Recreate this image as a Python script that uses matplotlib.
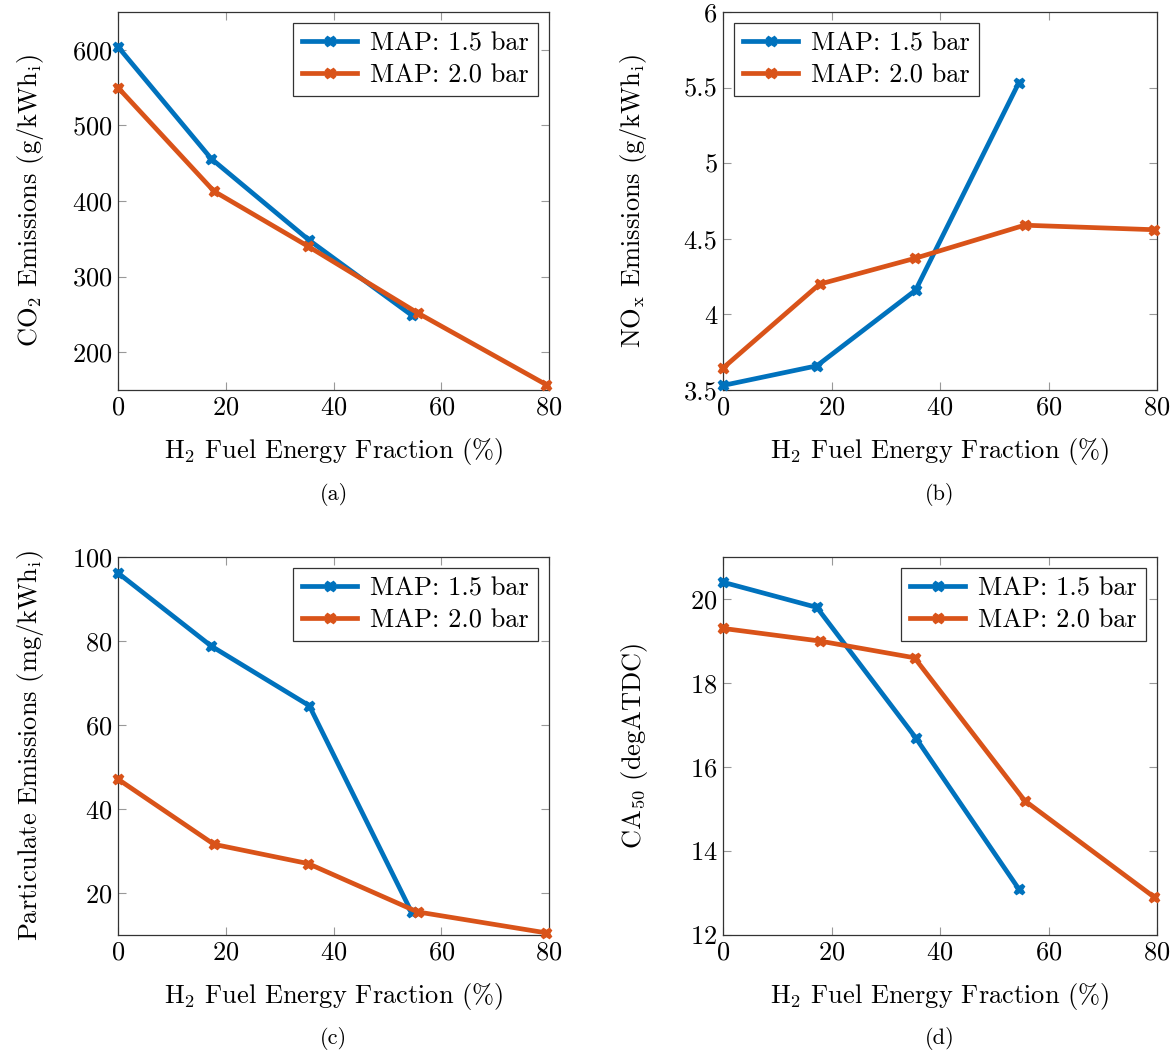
import matplotlib
matplotlib.use("Agg")
import matplotlib.pyplot as plt

plt.rcParams['font.family'] = ['cmr10', 'DejaVu Serif']
plt.rcParams['mathtext.fontset'] = 'cm'
plt.rcParams['axes.formatter.use_mathtext'] = True
plt.rcParams['axes.unicode_minus'] = False

BLUE = '#0072BD'
ORANGE = '#D95319'

# H2 fuel energy fraction (%) for each pressure
x_15 = [0, 17.3, 35.5, 54.5]
x_20 = [0, 17.8, 35.3, 55.6, 79.5]

# (a) CO2 emissions (g/kWh_i)
co2_15 = [604, 456, 348, 249]
co2_20 = [550, 413, 340, 252, 157]

# (b) NOx emissions (g/kWh_i)
nox_15 = [3.53, 3.66, 4.16, 5.53]
nox_20 = [3.645, 4.20, 4.37, 4.59, 4.56]

# (c) particulate emissions (mg/kWh_i)
pm_15 = [96.2, 78.8, 64.6, 15.4]
pm_20 = [47.1, 31.6, 27.0, 15.5, 10.5]

# (d) CA50 (degATDC)
ca_15 = [20.4, 19.8, 16.7, 13.1]
ca_20 = [19.3, 19.0, 18.6, 15.2, 12.9]

nox_ticks = [3.5, 4, 4.5, 5, 5.5, 6]
nox_ticklabels = ['3.5', '4', '4.5', '5', '5.5', '6']

W, H = 1175, 1057
FS = 19
fig = plt.figure(figsize=(W / 100, H / 100), dpi=100)


def make_ax(left, right, top, bottom):
    return fig.add_axes([left / W, 1 - bottom / H, (right - left) / W, (bottom - top) / H])


panels = [
    dict(box=(118, 549, 12, 390), y15=co2_15, y20=co2_20, ylim=(150, 650),
         yticks=[200, 300, 400, 500, 600], ylabels=None, pad=19,
         ylabel=r'CO$_2$ Emissions (g/kWh$_\mathrm{i}$)', loc='upper right', cap='(a)'),
    dict(box=(723, 1157, 12, 390), y15=nox_15, y20=nox_20, ylim=(3.5, 6),
         yticks=nox_ticks, ylabels=nox_ticklabels, pad=25,
         ylabel=r'NO$_\mathrm{x}$ Emissions (g/kWh$_\mathrm{i}$)', loc='upper left', cap='(b)'),
    dict(box=(118, 549, 557, 935), y15=pm_15, y20=pm_20, ylim=(10, 100),
         yticks=[20, 40, 60, 80, 100], ylabels=None, pad=19,
         ylabel=r'Particulate Emissions (mg/kWh$_\mathrm{i}$)', loc='upper right', cap='(c)'),
    dict(box=(723, 1157, 557, 935), y15=ca_15, y20=ca_20, ylim=(12, 21),
         yticks=[12, 14, 16, 18, 20], ylabels=None, pad=29,
         ylabel=r'CA$_{50}$ (degATDC)', loc='upper right', cap='(d)'),
]

for p in panels:
    l, r, t, b = p['box']
    ax = make_ax(l, r, t, b)
    ax.plot(x_15, p['y15'], color=BLUE, lw=3.4, marker='X', ms=7.5, label='MAP: 1.5 bar', clip_on=False, zorder=3)
    ax.plot(x_20, p['y20'], color=ORANGE, lw=3.4, marker='X', ms=7.5, label='MAP: 2.0 bar', clip_on=False, zorder=3)
    ax.set_xlim(0, 80)
    ax.set_ylim(*p['ylim'])
    ax.set_xticks([0, 20, 40, 60, 80])
    ax.set_yticks(p['yticks'])
    if p['ylabels']:
        ax.set_yticklabels(p['ylabels'])
    ax.tick_params(direction='in', top=True, right=True, length=6, width=0.8,
                   color='#999999', labelsize=FS, pad=4)
    for s in ax.spines.values():
        s.set_linewidth(0.9)
        s.set_color('#333333')
    ax.set_xlabel(r'H$_2$ Fuel Energy Fraction (%)', fontsize=FS, labelpad=12)
    ax.set_ylabel(p['ylabel'], fontsize=FS, labelpad=p['pad'])
    leg = ax.legend(loc=p['loc'], fontsize=FS, fancybox=False, framealpha=1,
                    edgecolor='#333333', handlelength=2.1, handletextpad=0.5,
                    borderpad=0.35, labelspacing=0.3, borderaxespad=0.4)
    leg.get_frame().set_linewidth(0.9)
    fig.text((l + r) / 2 / W, 1 - (b + 104) / H, p['cap'], ha='center', va='center', fontsize=16)

fig.savefig('out.png', dpi=100)
